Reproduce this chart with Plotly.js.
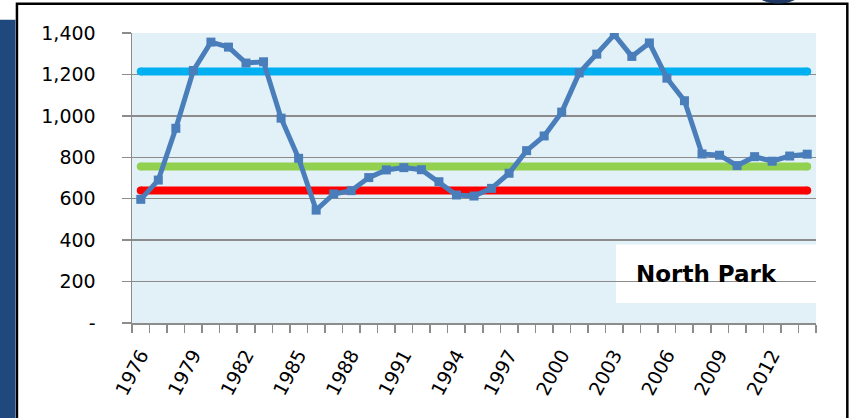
<!DOCTYPE html>
<html>
<head>
<meta charset="utf-8">
<script src="https://cdn.plot.ly/plotly-3.0.1.min.js"></script>
<style>
html,body{margin:0;padding:0;background:#fff;}
#chart{width:850px;height:418px;}
</style>
</head>
<body>
<div id="chart"></div>
<script>
// ---- data ----
const years = [1976,1977,1978,1979,1980,1981,1982,1983,1984,1985,1986,1987,1988,1989,1990,1991,1992,1993,1994,1995,1996,1997,1998,1999,2000,2001,2002,2003,2004,2005,2006,2007,2008,2009,2010,2011,2012,2013,2014];
const values = [597,690,940,1219,1356,1332,1255,1261,989,795,545,623,639,702,739,750,740,682,618,613,650,723,832,903,1018,1207,1298,1392,1287,1352,1182,1073,816,810,760,803,781,806,815];
const refHigh = 1214;   // light blue line
const refMid = 755;     // green line
const refLow = 640;     // red line
const yTickVals = [0,200,400,600,800,1000,1200,1400];
const yTickText = ['-','200','400','600','800','1,000','1,200','1,400'];
const xLabelYears = years.filter((y,i)=>i%3===0);
const chartLabel = 'North Park';

// ---- layout helpers (pixel -> paper) ----
const L=132, R=815.7, T=33.3, B=322.7;
const W=850, H=418;
const px=x=>(x-L)/(R-L);
const py=y=>(B-y)/(B-T);

const first = years[0], last = years[years.length-1];
const boundaries = years.map(y=>y-0.5).concat([last+0.5]);

const blue = '#4a7ebb';
function refLine(v,color){
  return {x:[first,last], y:[v,v], mode:'lines+markers', line:{color:color, width:8},
          marker:{symbol:'circle', size:8, color:color}, hoverinfo:'skip'};
}
const traces = [
  refLine(refHigh,'#00b0f0'),
  refLine(refMid,'#92d050'),
  refLine(refLow,'#ff0000'),
  {x:years, y:values, mode:'lines+markers', line:{color:blue, width:5},
   marker:{symbol:'square', size:9, color:blue}}
];

const layout = {
  width:W, height:H,
  margin:{l:L, r:W-R, t:T, b:H-B, pad:0},
  paper_bgcolor:'#fff',
  plot_bgcolor:'#e2f0f7',
  showlegend:false,
  font:{family:'DejaVu Sans', size:19, color:'#000'},
  xaxis:{
    range:[first-0.5,last+0.5], tickmode:'array', tickvals:xLabelYears,
    ticktext:xLabelYears.map(String), tickangle:-62, ticks:'', showgrid:false,
    zeroline:false, showline:true, linecolor:'#8c8c8c', linewidth:1.5,
    tickfont:{family:'DejaVu Sans', size:19}, ticklabelstandoff:12,
    minor:{tickmode:'array', tickvals:boundaries, ticks:'outside', ticklen:8, tickwidth:1.5, tickcolor:'#8c8c8c', showgrid:false}
  },
  yaxis:{
    range:[0,1400], tickmode:'array', tickvals:yTickVals, ticktext:yTickText,
    ticks:'outside', ticklen:9, tickwidth:1.5, tickcolor:'#8c8c8c',
    showgrid:true, gridcolor:'#8c8c8c', gridwidth:1.5, zeroline:false,
    showline:true, linecolor:'#8c8c8c', linewidth:1.5,
    tickfont:{family:'DejaVu Sans', size:19}, ticklabelstandoff:22
  },
  shapes:[
    // outer frame border
    {type:'rect', xref:'paper', yref:'paper', x0:px(17), x1:px(847), y0:py(4), y1:py(430),
     line:{color:'#000', width:2.5}, fillcolor:'rgba(0,0,0,0)', layer:'below'},
    // dark blue left bar
    {type:'rect', xref:'paper', yref:'paper', x0:px(-2), x1:px(15.5), y0:py(20), y1:py(430),
     line:{width:0}, fillcolor:'#1f497d', layer:'below'},
    // ellipse at top
    {type:'circle', xref:'paper', yref:'paper', x0:px(752), x1:px(804), y0:py(3.5), y1:py(-28),
     line:{color:'#17375e', width:1}, fillcolor:'#1f3864', layer:'above'},
    // label box
    {type:'rect', xref:'paper', yref:'paper', x0:px(615.7), x1:px(815.7), y0:py(302.7), y1:py(244.3),
     line:{width:0}, fillcolor:'#fff', layer:'between'}
  ],
  annotations:[
    {text:'<b>'+chartLabel+'</b>', xref:'paper', yref:'paper', x:px(634), y:py(273.5),
     xanchor:'left', yanchor:'middle', showarrow:false,
     font:{family:'DejaVu Sans', size:23, color:'#000'}}
  ]
};

Plotly.newPlot('chart', traces, layout, {displayModeBar:false, staticPlot:true});
</script>
</body>
</html>
